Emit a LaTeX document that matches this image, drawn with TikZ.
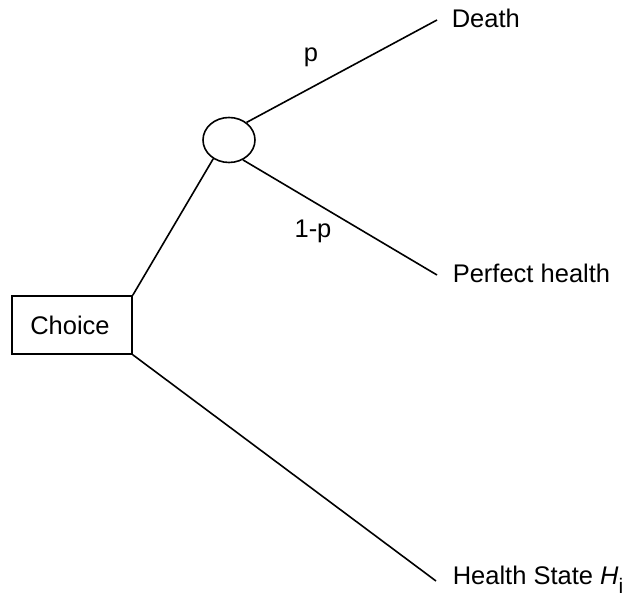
\documentclass[tikz,border=0pt]{standalone}
\usepackage{fontspec}
\setmainfont{Liberation Sans}
\usetikzlibrary{shapes.geometric}
\begin{document}
\begin{tikzpicture}[x=1pt,y=1pt,
  line width=1.6pt,
  lbl/.style={font=\fontsize{25.5}{30}\selectfont, inner sep=0pt},
  decision/.style={draw, rectangle, minimum width=120pt, minimum height=58pt, inner sep=0pt, font=\fontsize{25.5}{30}\selectfont},
  chancenode/.style={draw, ellipse, minimum width=52pt, minimum height=45pt, inner sep=0pt}]
\useasboundingbox (0,0) rectangle (630,603);
\node[decision] (choice) at (72,278) {\hspace*{-4pt}Choice};
\node[chancenode] (chance) at (229,463) {};
\coordinate (dEnd) at (437,583);
\coordinate (pEnd) at (437,328);
\coordinate (hEnd) at (436,22);
\node[lbl, anchor=base west] (death) at (451,575) {Death};
\node[lbl, anchor=base west] (perfect) at (452,320) {Perfect health};
\node[lbl, anchor=base west] (state) at (452,18) {Health State \textit{H}\raisebox{-9pt}{\fontsize{21}{21}\selectfont i}};
\node[lbl, anchor=base] (p) at (311,541) {p};
\node[lbl, anchor=base] (q) at (313,365) {1-p};
\draw (choice.north east) -- (chance.230);
\draw (chance.45) -- (dEnd);
\draw (chance.-55) -- (pEnd);
\draw (choice.south east) -- (hEnd);
\end{tikzpicture}
\end{document}
